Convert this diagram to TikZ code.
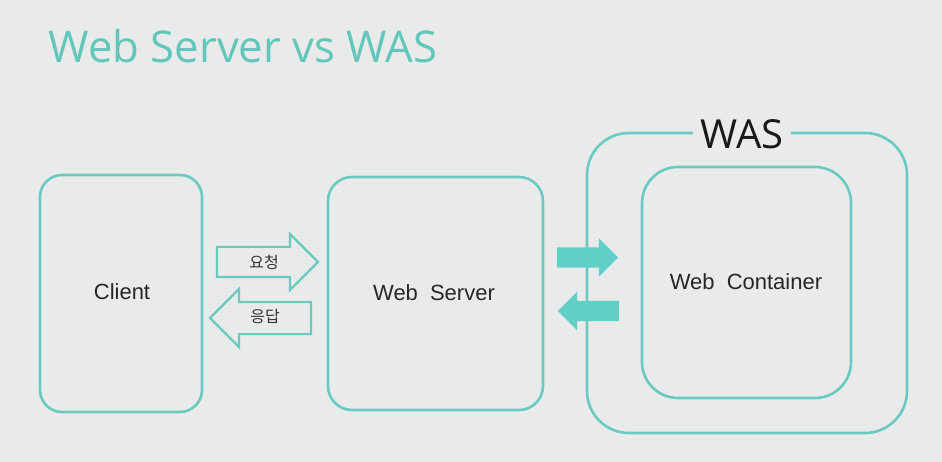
\documentclass[tikz,border=0pt]{standalone}
\usepackage{fontspec}
\setmainfont{Liberation Sans}
\newfontfamily\titlefont{Open Sans}
\newfontfamily\krfont{Noto Sans CJK KR}
\usetikzlibrary{shapes.arrows}
\definecolor{bgc}{HTML}{E9EBEB}
\definecolor{teal}{HTML}{6BCAC0}
\definecolor{titlec}{HTML}{62C6BB}
\definecolor{arrowc}{HTML}{5FCFC7}
\begin{document}
\begin{tikzpicture}[x=1pt,y=-1pt,
  box/.style={draw=teal,line width=2.6pt,inner sep=0pt},
  lbl/.style={font=\fontsize{22}{25}\selectfont,text=black!85},
  hollow/.style={single arrow,draw=teal,line width=2.2pt,inner sep=0pt,single arrow head extend=13pt,minimum width=56pt,minimum height=101pt},
  solid/.style={single arrow,fill=arrowc,inner sep=0pt,inner ysep=10pt,single arrow head extend=9pt,minimum width=38pt,minimum height=61pt},
  kr/.style={font=\krfont\fontsize{16}{18}\selectfont,text=black!80}]
\fill[bgc] (0,0) rectangle (942,462);
\useasboundingbox (0,0) rectangle (942,462);
\node[font=\titlefont\fontsize{43.7}{48}\selectfont,text=titlec,anchor=base west] (title) at (45,63) {Web Server vs WAS};
\node[box,rounded corners=22pt,minimum width=162pt,minimum height=237pt] (client) at (121,293.5) {};
\node[lbl] (clientt) at (122,292) {Client};
\node[box,rounded corners=24pt,minimum width=215pt,minimum height=233pt] (ws) at (435.5,293.5) {};
\node[lbl] (wst) at (434,293) {Web\hspace{0.55em}Server};
\node[box,rounded corners=42pt,minimum width=320pt,minimum height=300pt] (was) at (747,283) {};
\node[fill=bgc,inner xsep=8pt,inner ysep=2pt,font=\titlefont\fontsize{40}{44}\selectfont,text=black!90] (wast) at (742,134) {WAS};
\node[box,rounded corners=36pt,minimum width=209pt,minimum height=231pt] (wc) at (746.5,282.5) {};
\node[lbl] (wct) at (746,282) {Web\hspace{0.55em}Container};
\node[hollow,inner ysep=14pt] (req) at (260,262) {};
\node[kr] (reqt) at (264,262) {요청};
\node[hollow,shape border rotate=180,inner ysep=15pt] (res) at (268.5,318) {};
\node[kr] (rest) at (265,317) {응답};
\node[solid] (a1) at (582.5,257.5) {};
\node[solid,shape border rotate=180] (a2) at (593.5,311) {};
\end{tikzpicture}
\end{document}
